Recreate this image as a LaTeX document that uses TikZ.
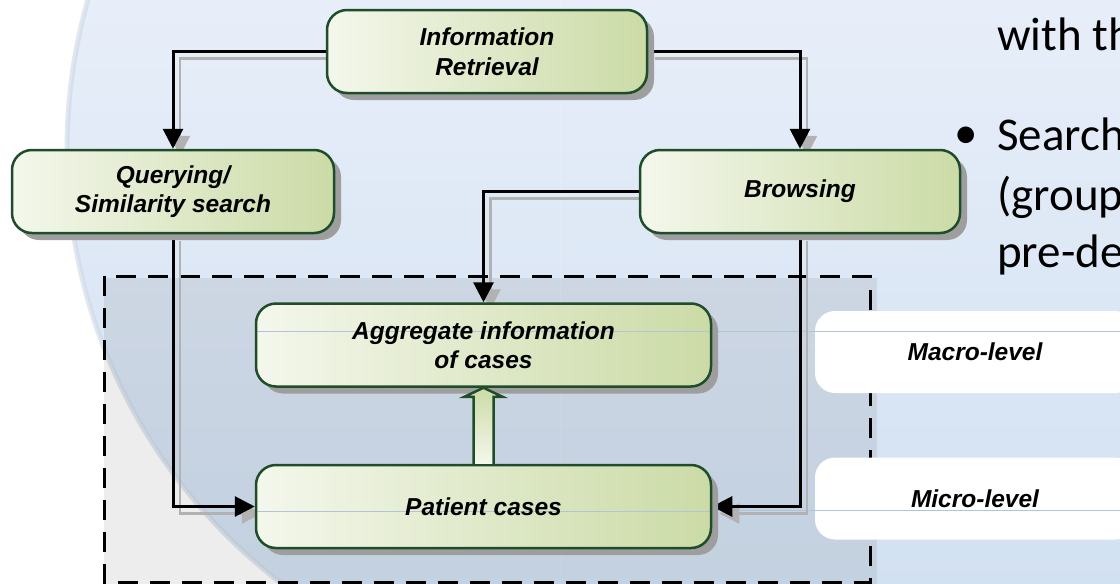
\documentclass[tikz,border=0pt]{standalone}
\usepackage{fontspec}
\setmainfont{Liberation Sans}
\newfontfamily\slidefont{Carlito}
\usepackage{xcolor}
\definecolor{boxgreen}{HTML}{1F4D2A}
\definecolor{boxlight}{HTML}{F4F7EC}
\definecolor{boxdark}{HTML}{CBDBA6}
\definecolor{slidetop}{HTML}{E7EEF9}
\definecolor{slidebottom}{HTML}{D2E1F2}
\definecolor{slideedge}{HTML}{CDD7E5}
\definecolor{gridline}{HTML}{B4C4D8}
\usetikzlibrary{positioning,arrows.meta,shadows,calc}
\pgfdeclarelayer{back}
\pgfdeclarelayer{wires}
\pgfsetlayers{back,wires,main}

\begin{document}
\begin{tikzpicture}[x=1pt,y=-1pt,
  box/.style={rectangle,draw=boxgreen,line width=2.5pt,rounded corners=20pt,
              left color=boxlight,right color=boxdark,minimum height=83pt,
              inner sep=0pt,align=center,
              font=\fontsize{24.5}{29.5}\selectfont\bfseries\itshape,
              drop shadow={shadow xshift=7pt,shadow yshift=-7pt,fill=black!38,opacity=1}},
  level/.style={rectangle,fill=white,rounded corners=20pt,minimum width=320pt,
                minimum height=82pt,inner sep=0pt,
                font=\fontsize{24.5}{29.5}\selectfont\bfseries\itshape},
  gridat/.style={path picture={\draw[gridline,line width=.8pt]
                 ([yshift=#1]path picture bounding box.west) --
                 ([yshift=#1]path picture bounding box.east);}},
  arr/.style={line width=3pt,-{Triangle[length=20pt,width=20pt]},
              preaction={draw=black!30,line width=2.5pt,-{Triangle[length=20pt,width=20pt]},
                         transform canvas={xshift=7pt,yshift=-7pt}}},
  hollow/.style={draw=boxgreen,line width=2.5pt,top color=boxdark,bottom color=boxlight},
  slidetxt/.style={font=\slidefont\fontsize{47}{58}\selectfont,inner sep=0pt,anchor=base west}
]
\useasboundingbox (0,0) rectangle (1120,584);

% slide behind the diagram
\begin{pgfonlayer}{back}
  \shade[top color=slidetop,bottom color=slidebottom] (0,0) rectangle (1120,584);
  \begin{scope}
    \clip (0,0) rectangle (560,584);
    \fill[white,even odd rule] (0,0) rectangle (560,584) (612,150) circle [radius=545pt];
    \draw[slideedge,line width=5pt,opacity=.6] (612,150) circle [radius=545pt];
  \end{scope}
  \fill[black,opacity=.07] (104,278) rectangle (877,584);
  \draw[line width=3pt,dash pattern=on 20pt off 12pt] (104,276) rectangle (870,582);
  \draw[gridline,line width=.8pt] (257,331) -- (1120,331);
  \draw[gridline,line width=.8pt] (257,510) -- (1120,510);
\end{pgfonlayer}

\node[box,minimum width=320pt] (info)   at (487,51.5)  {Information\\Retrieval};
\node[box,minimum width=322pt] (query)  at (173,191.5) {Querying/\\Similarity search};
\node[box,minimum width=320pt] (browse) at (800,191.5) {Browsing};
\node[box,gridat=14pt,minimum width=455pt] (aggr) at (483.5,345) {Aggregate information\\of cases};
\node[box,gridat=-5pt,minimum width=455pt,below=76pt of aggr] (cases) {Patient cases};

\node[level,gridat=21pt]    (macro) at (975,352)   {Macro-level};
\node[level,gridat=-11.5pt] (micro) at (975,498.5) {Micro-level};

\begin{pgfonlayer}{wires}
  \draw[arr] (info.west)   -| (query.north);
  \draw[arr] (info.east)   -| (browse.north);
  \draw[arr] (browse.west) -| (aggr.north);
  \draw[arr] (query.south) |- (cases.west);
  \draw[arr] (browse.south) |- (cases.east);
  % shadow of the block arrow
  \fill[black!30,xshift=7pt,yshift=-7pt]
    ($(cases.north)+(-10,0)$) -- ($(aggr.south)+(-10,9)$) -- ($(aggr.south)+(-19,9)$)
    -- (aggr.south) -- ($(aggr.south)+(19,9)$) -- ($(aggr.south)+(10,9)$)
    -- ($(cases.north)+(10,0)$) -- cycle;
\end{pgfonlayer}

% block arrow from the cases up to the aggregate
\draw[hollow]
  ($(cases.north)+(-10,0)$) -- ($(aggr.south)+(-10,9)$) -- ($(aggr.south)+(-19,9)$)
  -- (aggr.south) -- ($(aggr.south)+(19,9)$) -- ($(aggr.south)+(10,9)$)
  -- ($(cases.north)+(10,0)$);

\node[slidetxt] (with)   at (997,50)  {with th};
\node[slidetxt,anchor=base] (bullet) at (966,148) {•};
\node[slidetxt] (search) at (997,150) {Search};
\node[slidetxt] (group)  at (997,210) {(group};
\node[slidetxt] (prede)  at (997,267) {pre-de};
\end{tikzpicture}
\end{document}
